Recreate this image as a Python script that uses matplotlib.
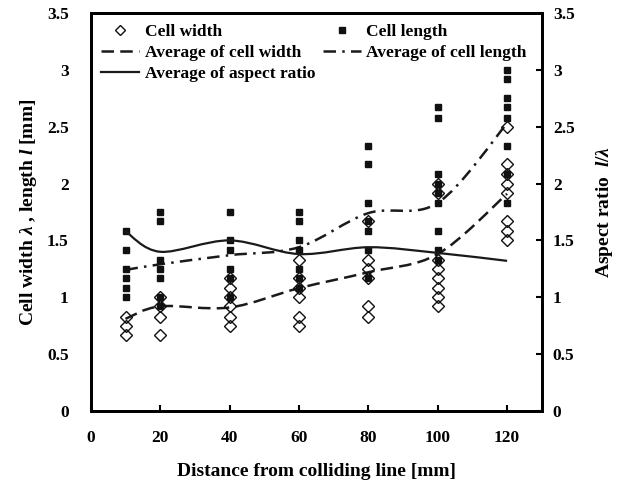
#!/usr/bin/env python
# encoding: utf-8

import numpy as np
from matplotlib import pyplot as plt
from matplotlib.path import Path
from matplotlib.patches import PathPatch
from matplotlib.lines import Line2D

plt.rcParams["font.family"] = ["Liberation Serif", "DejaVu Serif"]
plt.rcParams["font.weight"] = "bold"
plt.rcParams["mathtext.fontset"] = "custom"
plt.rcParams["mathtext.it"] = "Liberation Serif:italic:bold"
plt.rcParams["mathtext.rm"] = "Liberation Serif:bold"

# distance from colliding line [mm]
dist = [10, 20, 40, 60, 80, 100, 120]

# individual measurements at each distance
width = {
    10: [0.83, 0.75, 0.67],
    20: [1.0, 0.92, 0.83, 0.67],
    40: [1.17, 1.08, 1.0, 0.92, 0.83, 0.75],
    60: [1.33, 1.17, 1.08, 1.0, 0.83, 0.75],
    80: [1.67, 1.33, 1.25, 1.17, 0.92, 0.83],
    100: [2.0, 1.92, 1.33, 1.25, 1.17, 1.08, 1.0, 0.92],
    120: [2.5, 2.17, 2.08, 2.0, 1.92, 1.67, 1.58, 1.5],
}
length = {
    10: [1.58, 1.42, 1.25, 1.17, 1.08, 1.0],
    20: [1.75, 1.67, 1.33, 1.25, 1.17, 1.0, 0.92],
    40: [1.75, 1.5, 1.42, 1.25, 1.17, 1.0],
    60: [1.75, 1.67, 1.5, 1.42, 1.25, 1.17, 1.08],
    80: [2.33, 2.17, 1.83, 1.67, 1.58, 1.42, 1.17],
    100: [2.67, 2.58, 2.08, 2.0, 1.92, 1.83, 1.58, 1.42, 1.33],
    120: [3.0, 2.92, 2.75, 2.67, 2.58, 2.33, 2.08, 1.83],
}

# averages
avg_width = [0.81, 0.92, 0.91, 1.08, 1.22, 1.38, 1.91]
avg_length = [1.24, 1.29, 1.37, 1.44, 1.74, 1.83, 2.53]
avg_ratio = [1.58, 1.40, 1.50, 1.38, 1.44, 1.39, 1.32]


def smooth_path(x, y):
    # excel like smoothed line: cubic bezier, catmull-rom control points
    x = np.asarray(x, float)
    y = np.asarray(y, float)
    pts = np.column_stack([x, y])
    verts = [pts[0]]
    codes = [Path.MOVETO]
    n = len(pts)
    for i in range(n - 1):
        p0 = pts[i - 1] if i > 0 else pts[i]
        p3 = pts[i + 2] if i + 2 < n else pts[i + 1]
        c1 = pts[i] + (pts[i + 1] - p0) / 6.
        c2 = pts[i + 1] - (p3 - pts[i]) / 6.
        verts += [c1, c2, pts[i + 1]]
        codes += [Path.CURVE4] * 3
    return Path(verts, codes)


fig = plt.figure(figsize=(6.22, 4.84), dpi=100)
ax = fig.add_axes([0.146, 0.151, 0.725, 0.822])
ax2 = ax.twinx()

wx = [d for d in dist for _ in width[d]]
wy = [v for d in dist for v in width[d]]
lx = [d for d in dist for _ in length[d]]
ly = [v for d in dist for v in length[d]]

ax.plot(lx, ly, "s", color="#111111", ms=5, ls="none", zorder=3)
ax.plot(wx, wy, "D", mfc="none", mec="#111111", ms=6.5, mew=1.0,
        ls="none", zorder=4)

dash_w = (0, (5, 2.5))
dash_l = (0, (5, 2.5, 1, 2.5))
ax.add_patch(PathPatch(smooth_path(dist, avg_width), fill=False,
                       ec="#1a1a1a", lw=1.8, ls=dash_w, zorder=2))
ax.add_patch(PathPatch(smooth_path(dist, avg_length), fill=False,
                       ec="#1a1a1a", lw=1.8, ls=dash_l, zorder=2))
ax2.add_patch(PathPatch(smooth_path(dist, avg_ratio), fill=False,
                        ec="#1a1a1a", lw=1.6, zorder=2))

for a in (ax, ax2):
    a.set_ylim(0, 3.5)
    a.set_yticks(np.arange(0, 3.51, 0.5))
    a.set_yticklabels(["0", "0.5", "1", "1.5", "2", "2.5", "3", "3.5"])
    a.tick_params(direction="in", length=4, width=1.5, labelsize=12.5,
                  pad=14)
ax.set_xlim(0, 130)
ax.set_xticks([0, 20, 40, 60, 80, 100, 120])
ax.tick_params(axis="x", pad=14)
ax.tick_params(axis="y", length=0, pad=16)
ax2.tick_params(axis="y", pad=8)

for s in ax.spines.values():
    s.set_linewidth(2)
for s in ax2.spines.values():
    s.set_linewidth(2)

ax.set_xlabel("Distance from colliding line [mm]", fontsize=14,
              fontweight="bold", labelpad=12)
ax.set_ylabel(r"Cell width $\lambda$ , length $l$ [mm]", fontsize=14,
              fontweight="bold", labelpad=6)
ax2.set_ylabel(r"Aspect ratio  $l$/$\lambda$", fontsize=14,
               fontweight="bold", labelpad=14)

handles = [
    Line2D([], [], marker="D", mfc="none", mec="#111111", ms=5, ls="none"),
    Line2D([], [], color="#1a1a1a", lw=1.8, ls=dash_w),
    Line2D([], [], color="#1a1a1a", lw=1.6),
    Line2D([], [], marker="s", color="#111111", ms=4.5, ls="none"),
    Line2D([], [], color="#1a1a1a", lw=1.8, ls=dash_l),
]
labels = ["Cell width", "Average of cell width", "Average of aspect ratio",
          "Cell length", "Average of cell length"]
ax2.legend(handles, labels, ncol=2, frameon=False, loc="upper left",
           bbox_to_anchor=(0.0, 1.0), fontsize=12.5, handlelength=2.2,
           handletextpad=0.3, columnspacing=0.45, labelspacing=0.3,
           borderaxespad=0.2)

fig.savefig("out.png", dpi=100)
